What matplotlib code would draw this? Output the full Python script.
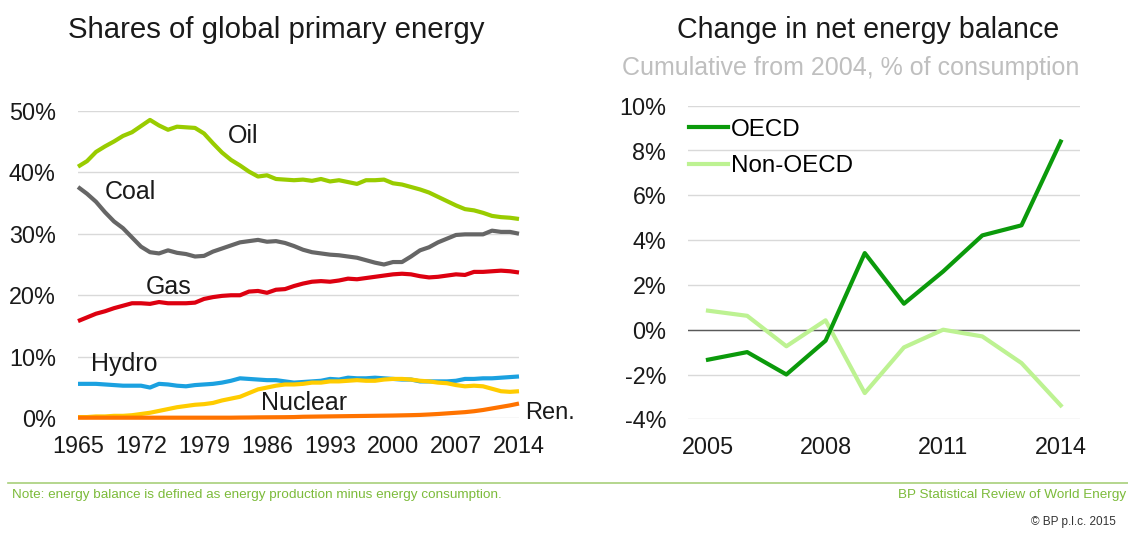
import matplotlib
matplotlib.use('Agg')
import matplotlib.pyplot as plt
import numpy as np

plt.rcParams['font.family'] = ['Liberation Sans', 'DejaVu Sans']

# Доли в мировом потреблении первичной энергии, %
years = list(range(1965, 2015))
oil = [40.9, 41.8, 43.3, 44.2, 45.0, 45.9, 46.5, 47.5, 48.5, 47.6,
       46.9, 47.4, 47.3, 47.2, 46.3, 44.7, 43.2, 42.0, 41.1, 40.1,
       39.3, 39.5, 38.9, 38.8, 38.7, 38.8, 38.6, 38.9, 38.5, 38.7,
       38.4, 38.1, 38.7, 38.7, 38.8, 38.2, 38.0, 37.6, 37.2, 36.7,
       36.0, 35.3, 34.6, 34.0, 33.8, 33.4, 32.9, 32.7, 32.6, 32.4]
coal = [37.6, 36.5, 35.2, 33.5, 32.0, 30.9, 29.4, 27.9, 27.0, 26.8,
        27.3, 26.9, 26.7, 26.3, 26.4, 27.1, 27.6, 28.1, 28.6, 28.8,
        29.0, 28.7, 28.8, 28.5, 28.0, 27.4, 27.0, 26.8, 26.6, 26.5,
        26.3, 26.1, 25.7, 25.3, 25.0, 25.4, 25.4, 26.3, 27.3, 27.8,
        28.6, 29.2, 29.8, 29.9, 29.9, 29.9, 30.5, 30.3, 30.3, 30.0]
gas = [15.8, 16.4, 17.0, 17.4, 17.9, 18.3, 18.7, 18.7, 18.6, 18.9,
       18.7, 18.7, 18.7, 18.8, 19.4, 19.7, 19.9, 20.0, 20.0, 20.6,
       20.7, 20.4, 20.9, 21.0, 21.5, 21.9, 22.2, 22.3, 22.2, 22.4,
       22.7, 22.6, 22.8, 23.0, 23.2, 23.4, 23.5, 23.4, 23.1, 22.9,
       23.0, 23.2, 23.4, 23.3, 23.8, 23.8, 23.9, 24.0, 23.9, 23.7]
hydro = [5.6, 5.6, 5.6, 5.5, 5.4, 5.3, 5.3, 5.3, 5.0, 5.6,
         5.5, 5.3, 5.2, 5.4, 5.5, 5.6, 5.8, 6.1, 6.5, 6.4,
         6.3, 6.2, 6.2, 6.0, 5.8, 5.9, 6.0, 6.1, 6.4, 6.3,
         6.6, 6.5, 6.5, 6.6, 6.5, 6.4, 6.3, 6.3, 6.0, 6.0,
         6.0, 6.0, 6.1, 6.4, 6.4, 6.5, 6.5, 6.6, 6.7, 6.8]
nuclear = [0.2, 0.2, 0.3, 0.3, 0.4, 0.4, 0.5, 0.7, 0.9, 1.2,
           1.5, 1.8, 2.0, 2.2, 2.3, 2.5, 2.9, 3.2, 3.5, 4.1,
           4.7, 5.0, 5.3, 5.5, 5.5, 5.6, 5.8, 5.8, 6.0, 6.0,
           6.1, 6.2, 6.1, 6.1, 6.3, 6.4, 6.4, 6.3, 6.1, 6.0,
           5.8, 5.7, 5.4, 5.2, 5.3, 5.2, 4.8, 4.4, 4.3, 4.4]
renew = [0.1, 0.1, 0.1, 0.1, 0.1, 0.1, 0.1, 0.1, 0.1, 0.1,
         0.1, 0.1, 0.1, 0.1, 0.1, 0.1, 0.1, 0.1, 0.12, 0.13,
         0.15, 0.16, 0.17, 0.18, 0.2, 0.25, 0.27, 0.29, 0.31, 0.33,
         0.35, 0.37, 0.39, 0.41, 0.43, 0.45, 0.48, 0.51, 0.55, 0.62,
         0.7, 0.8, 0.9, 1.0, 1.15, 1.35, 1.6, 1.85, 2.1, 2.4]
left_xticks = [1965, 1972, 1979, 1986, 1993, 2000, 2007, 2014]
left_yticks = [0, 10, 20, 30, 40, 50]

# Изменение чистого энергобаланса, % потребления
bal_years = list(range(2005, 2015))
oecd = [-1.34, -1.0, -2.0, -0.49, 3.42, 1.16, 2.6, 4.21, 4.66, 8.4]
non_oecd = [0.85, 0.62, -0.74, 0.42, -2.83, -0.79, 0.0, -0.3, -1.49, -3.38]
right_xticks = [2005, 2008, 2011, 2014]
right_yticks = [-4, -2, 0, 2, 4, 6, 8, 10]

W, H = 1128, 534
fig = plt.figure(figsize=(W / 100, H / 100), dpi=100)
fig.patch.set_facecolor('white')


def px_axes(x0, x1, y_top, y_bot):
    return fig.add_axes([x0 / W, 1 - y_bot / H, (x1 - x0) / W, (y_bot - y_top) / H])


def style(ax):
    for s in ax.spines.values():
        s.set_visible(False)
    ax.tick_params(length=0, labelsize=16.8, labelcolor='#1a1a1a')
    ax.tick_params(axis='y', pad=16)
    ax.tick_params(axis='x', pad=12)
    ax.grid(axis='y', color='#d9d9d9', lw=1)
    ax.set_axisbelow(True)


# Левый график
ax1 = px_axes(78, 519, 110.7, 418.3)
style(ax1)
series = [(oil, '#99cc00'), (coal, '#666666'), (gas, '#dd0010'),
          (hydro, '#1ba1e0'), (nuclear, '#ffcc00'), (renew, '#ff7300')]
for vals, col in series:
    ax1.plot(years, vals, color=col, lw=3, clip_on=False, solid_capstyle='butt')
ax1.set_xlim(1965, 2014)
ax1.set_ylim(0, 50)
ax1.set_xticks(left_xticks)
ax1.set_yticks(left_yticks)
ax1.set_yticklabels([f'{v}%' for v in left_yticks])

lab = dict(fontsize=18, color='#1a1a1a', va='center')
ax1.text(1983.3, 45.9, 'Oil', ha='center', **lab)
ax1.text(1970.8, 36.8, 'Coal', ha='center', **lab)
ax1.text(1975.1, 21.4, 'Gas', ha='center', **lab)
ax1.text(1970.1, 8.8, 'Hydro', ha='center', **lab)
ax1.text(1990.1, 2.5, 'Nuclear', ha='center', **lab)
ax1.text(2014.65, 0.9, 'Ren.', ha='left', clip_on=False,
         fontsize=17, color='#1a1a1a', va='center')

fig.text(276 / W, 1 - 30 / H, 'Shares of global primary energy',
         ha='center', va='center', fontsize=21.2, color='#1a1a1a')

# Правый график
ax2 = px_axes(688.4, 1080.3, 105.7, 419.3)
style(ax2)
ax2.axhline(0, color='#595959', lw=1, zorder=1)
ax2.plot(bal_years, non_oecd, color='#bdf292', lw=3, label='Non-OECD')
ax2.plot(bal_years, oecd, color='#0b9a0b', lw=3, label='OECD')
ax2.set_xlim(2004.5, 2014.5)
ax2.set_ylim(-4, 10)
ax2.set_xticks(right_xticks)
ax2.set_yticks(right_yticks)
ax2.set_yticklabels([f'{v}%' for v in right_yticks])
h, l = ax2.get_legend_handles_labels()
ax2.legend(h[::-1], l[::-1], loc='upper left', bbox_to_anchor=(-0.022, 0.99),
           frameon=False, fontsize=17.4, handlelength=1.6, handletextpad=0.1,
           labelspacing=0.6, borderaxespad=0)

fig.text(868 / W, 1 - 30 / H, 'Change in net energy balance',
         ha='center', va='center', fontsize=20.6, color='#1a1a1a')
fig.text(851 / W, 1 - 68 / H, 'Cumulative from 2004, % of consumption',
         ha='center', va='center', fontsize=18, color='#bfbfbf')

# Подвал
fig.add_artist(plt.Line2D([8 / W, 1], [1 - 483 / H, 1 - 483 / H],
                          color='#a8cf7a', lw=1.2))
fig.text(12 / W, 1 - 495 / H,
         'Note: energy balance is defined as energy production minus energy consumption.',
         ha='left', va='center', fontsize=9.7, color='#7cbb3a')
fig.text(1126 / W, 1 - 495 / H, 'BP Statistical Review of World Energy',
         ha='right', va='center', fontsize=9.7, color='#7cbb3a')
fig.text(1116 / W, 1 - 522 / H, '\u00a9 BP p.l.c. 2015',
         ha='right', va='center', fontsize=8.5, color='#333333')

fig.savefig('out.png', dpi=100)
